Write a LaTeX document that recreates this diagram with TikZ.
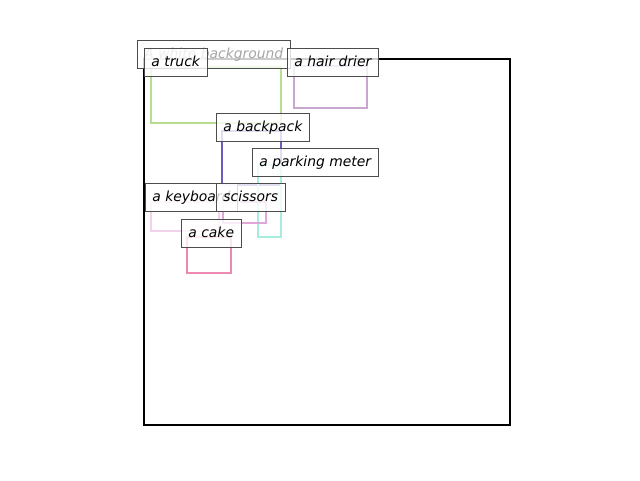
\documentclass[tikz,border=0pt]{standalone}
\usepackage{fontspec}
\setmainfont{DejaVu Sans}
\usetikzlibrary{positioning}

\definecolor{truckcol}{HTML}{B7DD8F}
\definecolor{driercol}{HTML}{C7A6CF}
\definecolor{packcol}{HTML}{6B5CBF}
\definecolor{metercol}{HTML}{A6EDE0}
\definecolor{sciscol}{HTML}{E0A6D8}
\definecolor{keyscol}{HTML}{F2D2EA}
\definecolor{cakecol}{HTML}{EC8AB4}

\tikzset{
  objbox/.style={line width=2pt},
  tag/.style={draw=black!70,line width=0.8pt,fill=white,fill opacity=0.8,text opacity=1,
    anchor=north west,inner xsep=7pt,inner ysep=0pt,minimum height=28pt,
    text height=10.5pt,text depth=3pt,font=\fontsize{13.9}{16}\selectfont\itshape}
}

\begin{document}
\begin{tikzpicture} [x=1pt,y=-1pt]
		\useasboundingbox (0,0) rectangle (640,480);
		% Define frame
		\draw[line width=2pt] (144,59) rectangle (510,425);
		% Define object boxes
		\draw[objbox,truckcol] (151,67) rectangle (281,123);
		\draw[objbox,driercol] (294,66) rectangle (367,108);
		\draw[objbox,packcol] (222,131) rectangle (281,185);
		\draw[objbox,metercol] (258,165) rectangle (281,237);
		\draw[objbox,keyscol] (151,202) rectangle (219,231);
		\draw[objbox,sciscol] (223,202) rectangle (266,223);
		\draw[objbox,cakecol] (187,237) rectangle (231,273);
		% Define labels
		\node[tag,text=black!35] (bg) at (137,40) {A white background};
		\node[tag] (truck) at (144,48) {a truck};
		\node[tag] (drier) at (287,48) {a hair drier};
		\node[tag] (pack) at (216,113) {a backpack};
		\node[tag] (meter) at (252,148) {a parking meter};
		\node[tag] (keys) at (145,183) {a keyboard};
		\node[tag] (scis) at (216,183) {scissors};
		\node[tag] (cake) at (181,219) {a cake};
	\end{tikzpicture}
\end{document}
